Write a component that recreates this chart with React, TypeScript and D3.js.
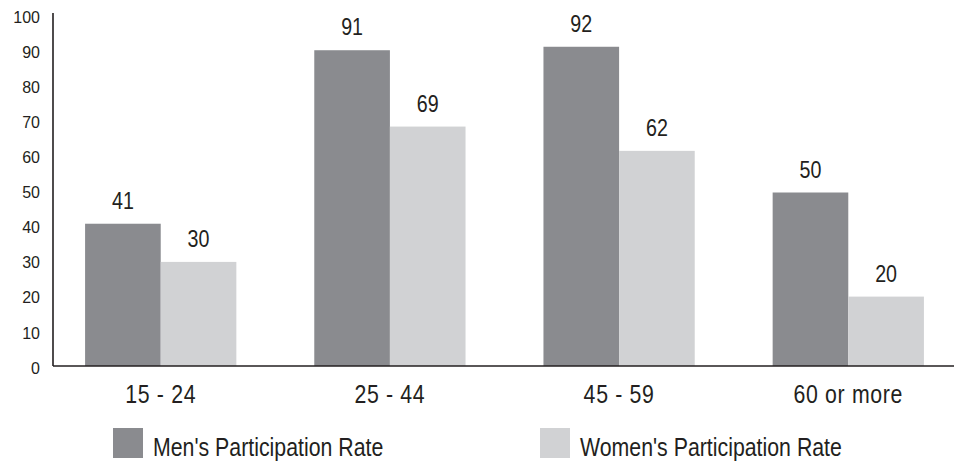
import * as d3 from "d3";
import React, { useEffect, useRef } from "react";

const ageGroups = ["15 - 24", "25 - 44", "45 - 59", "60 or more"];
const seriesNames = ["Men's Participation Rate", "Women's Participation Rate"];
const menRates = [41, 91, 92, 50];
const womenRates = [30, 69, 62, 20];
const yTicks = [0, 10, 20, 30, 40, 50, 60, 70, 80, 90, 100];
const seriesColors = ["#8a8b8f", "#d1d2d4"];

// no narrow face installed, so squeeze Liberation Sans horizontally
const font = "'Liberation Sans', Arial, sans-serif";
const squeeze = 0.82;

const App: React.FC = () => {
  const svgRef = useRef<SVGSVGElement | null>(null);

  useEffect(() => {
    const svg = d3.select(svgRef.current);
    const width = 954;
    const axisX = 53;
    const baseY = 366;

    svg.selectAll("*").remove();

    const rows = ageGroups.map((g, i) => ({ group: g, values: [menRates[i], womenRates[i]] }));

    // scales
    const x0 = d3
      .scaleBand<string>()
      .domain(ageGroups)
      .range([axisX, width + 2])
      .paddingInner(0.34)
      .paddingOuter(0.14);

    const x1 = d3
      .scaleBand<number>()
      .domain([0, 1])
      .range([0, x0.bandwidth()]);

    const y = d3.scaleLinear().domain([0, 100]).range([baseY, 19]);
    const yLabel = d3.scaleLinear().domain([0, 100]).range([368, 17]);

    // bars
    const groups = svg
      .append("g")
      .selectAll("g")
      .data(rows)
      .join("g")
      .attr("transform", (d) => `translate(${x0(d.group)},0)`);

    groups
      .selectAll("rect")
      .data((d) => d.values)
      .join("rect")
      .attr("x", (_, i) => x1(i) as number)
      .attr("y", (v) => y(v))
      .attr("width", x1.bandwidth())
      .attr("height", (v) => baseY - y(v))
      .attr("fill", (_, i) => seriesColors[i]);

    groups
      .selectAll("text")
      .data((d) => d.values)
      .join("text")
      .attr(
        "transform",
        (v, i) => `translate(${(x1(i) as number) + x1.bandwidth() / 2},${y(v) - 15}) scale(${squeeze},1)`
      )
      .attr("text-anchor", "middle")
      .attr("font-family", font)
      .attr("font-size", 24)
      .attr("fill", "#231f20")
      .text((v) => v);

    // axes
    svg
      .append("line")
      .attr("x1", axisX)
      .attr("x2", axisX)
      .attr("y1", 13)
      .attr("y2", baseY)
      .attr("stroke", "#231f20")
      .attr("stroke-width", 1.6);

    svg
      .append("line")
      .attr("x1", axisX)
      .attr("x2", width)
      .attr("y1", baseY)
      .attr("y2", baseY)
      .attr("stroke", "#231f20")
      .attr("stroke-width", 1.6);

    svg
      .append("g")
      .selectAll("text")
      .data(yTicks)
      .join("text")
      .attr("x", 40)
      .attr("y", (t) => yLabel(t))
      .attr("dy", "0.35em")
      .attr("text-anchor", "end")
      .attr("font-family", font)
      .attr("font-size", 16)
      .attr("fill", "#231f20")
      .text((t) => t);

    // category labels
    svg
      .append("g")
      .selectAll("text")
      .data(ageGroups)
      .join("text")
      .attr(
        "transform",
        (g) => `translate(${(x0(g) as number) + x0.bandwidth() / 2},403) scale(${squeeze},1)`
      )
      .attr("text-anchor", "middle")
      .attr("font-family", font)
      .attr("font-size", 26)
      .attr("letter-spacing", 0.8)
      .attr("fill", "#231f20")
      .text((g) => g);

    // legend
    const legendX = [113, 540];
    const legend = svg
      .append("g")
      .selectAll("g")
      .data(seriesNames)
      .join("g")
      .attr("transform", (_, i) => `translate(${legendX[i]},428)`);

    legend
      .append("rect")
      .attr("width", 30)
      .attr("height", 30)
      .attr("fill", (_, i) => seriesColors[i]);

    legend
      .append("text")
      .attr("transform", `translate(40,28) scale(${squeeze},1)`)
      .attr("font-family", font)
      .attr("font-size", 26)
      .attr("fill", "#231f20")
      .text((d) => d);
  }, []);

  return (
    <svg
      ref={svgRef}
      width={954}
      height={461}
      style={{ position: "absolute", left: 0, top: 0, background: "#fff" }}
    ></svg>
  );
};

export default App;
